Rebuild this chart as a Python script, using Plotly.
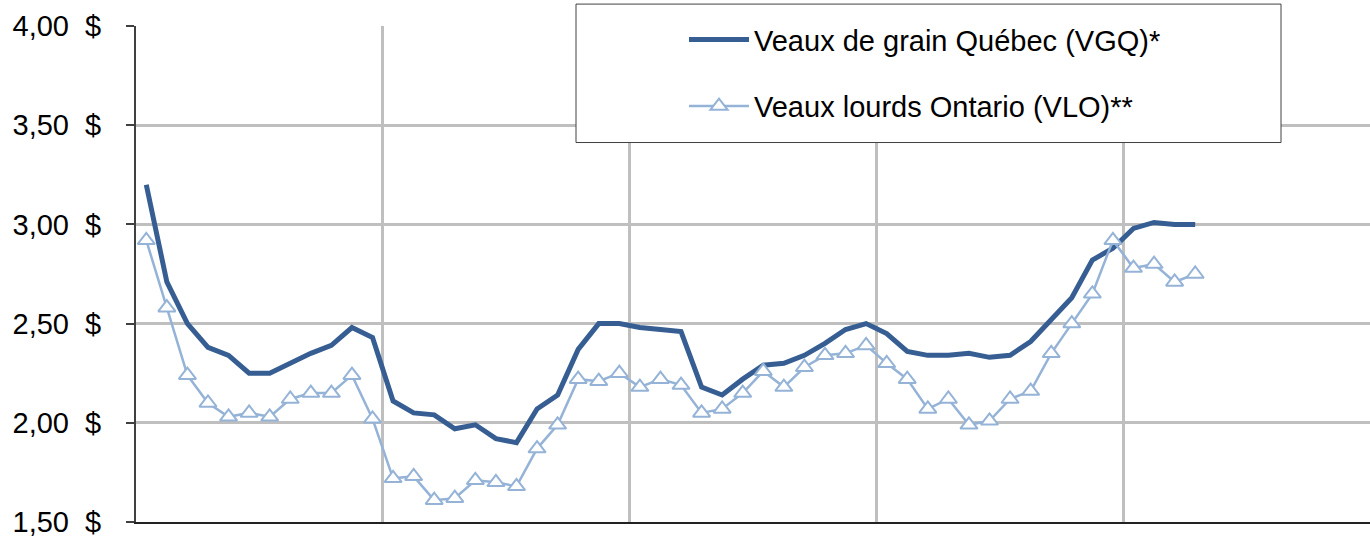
import plotly.graph_objects as go

# Monthly prices ($), 52 months shown on a 60-month axis (5 years)
mois = list(range(1, 53))
vgq = [3.20, 2.71, 2.50, 2.38, 2.34, 2.25, 2.25, 2.30, 2.35, 2.39, 2.48, 2.43,
       2.11, 2.05, 2.04, 1.97, 1.99, 1.92, 1.90, 2.07, 2.14, 2.37, 2.50, 2.50,
       2.48, 2.47, 2.46, 2.18, 2.14, 2.22, 2.29, 2.30, 2.34, 2.40, 2.47, 2.50,
       2.45, 2.36, 2.34, 2.34, 2.35, 2.33, 2.34, 2.41, 2.52, 2.63, 2.82, 2.88,
       2.98, 3.01, 3.00, 3.00]
vlo = [2.92, 2.58, 2.24, 2.10, 2.03, 2.05, 2.03, 2.12, 2.15, 2.15, 2.24, 2.02,
       1.72, 1.73, 1.61, 1.62, 1.71, 1.70, 1.68, 1.87, 1.99, 2.22, 2.21, 2.25,
       2.18, 2.22, 2.19, 2.05, 2.07, 2.15, 2.26, 2.18, 2.28, 2.34, 2.35, 2.39,
       2.30, 2.22, 2.07, 2.12, 1.99, 2.01, 2.12, 2.16, 2.35, 2.50, 2.65, 2.92,
       2.78, 2.80, 2.71, 2.75]
y_ticks = [1.5, 2.0, 2.5, 3.0, 3.5, 4.0]
y_ticktext = ["1,50\u00a0\u00a0$", "2,00\u00a0\u00a0$", "2,50\u00a0\u00a0$",
              "3,00\u00a0\u00a0$", "3,50\u00a0\u00a0$", "4,00\u00a0\u00a0$"]
noms = ["Veaux de grain Québec (VGQ)*", "Veaux lourds Ontario (VLO)**"]

x = [m - 0.5 for m in mois]
FONT = "Liberation Sans, Arial, sans-serif"

fig = go.Figure()
fig.add_trace(go.Scatter(
    x=x, y=vgq, mode="lines", name=noms[0], legendgroup="a",
    line=dict(color="#375E92", width=5),
))
fig.add_trace(go.Scatter(
    x=x, y=vlo, mode="lines+markers", name=noms[1], legendgroup="b",
    line=dict(color="#95B3D7", width=2.5),
    marker=dict(symbol="triangle-up", size=15, color="white",
                line=dict(color="#95B3D7", width=2)),
))

L, T, B = 136, 26, 14
W, H = 1370, 538
pw, ph = W - L, H - T - B

def px(xp):
    return (xp - L) / pw

def py(yp):
    return (H - B - yp) / ph

fig.add_shape(type="rect", xref="paper", yref="paper",
              x0=px(576), x1=px(1281), y0=py(143), y1=py(4),
              line=dict(color="#404040", width=1), fillcolor="white",
              layer="above")

fig.update_layout(
    width=W, height=H,
    margin=dict(l=L, r=0, t=T, b=B, pad=0),
    paper_bgcolor="white", plot_bgcolor="white",
    font=dict(family=FONT, size=29, color="black"),
    showlegend=True,
    legend=dict(
        x=px(684), y=py(14), xanchor="left", yanchor="top",
        bgcolor="rgba(0,0,0,0)", borderwidth=0,
        font=dict(family=FONT, size=29, color="black"),
        traceorder="grouped", tracegroupgap=26, itemwidth=60,
    ),
    xaxis=dict(
        range=[0, 60], tickmode="linear", tick0=0, dtick=12,
        showticklabels=False, ticks="",
        showgrid=True, gridcolor="#BFBFBF", gridwidth=2.5,
        showline=True, linecolor="#222222", linewidth=2,
        zeroline=False, fixedrange=True,
    ),
    yaxis=dict(
        range=[1.5, 4.0], tickmode="array", tickvals=y_ticks, ticktext=y_ticktext,
        ticks="outside", ticklen=8, tickwidth=1.5, tickcolor="#404040",
        ticklabelstandoff=19, ticklabeloverflow="allow",
        tickfont=dict(family=FONT, size=29, color="black"),
        showgrid=True, gridcolor="#BFBFBF", gridwidth=2.5,
        showline=True, linecolor="#404040", linewidth=2,
        zeroline=False, fixedrange=True,
    ),
)

fig.write_html(
    "out.html",
    config={"displayModeBar": False},
    post_script="document.body.style.margin='0';document.body.style.overflow='hidden';",
)
